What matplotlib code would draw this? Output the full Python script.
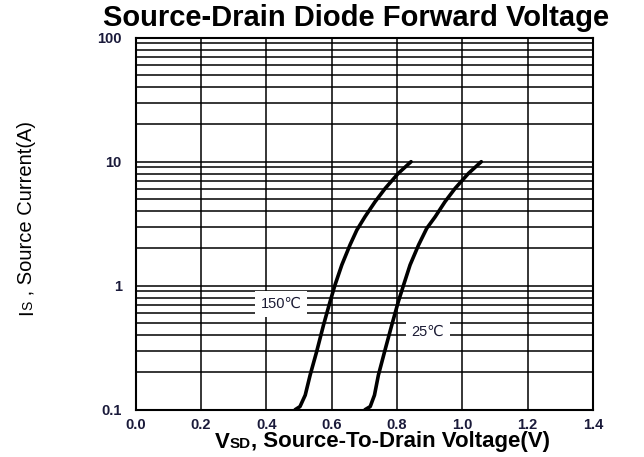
import matplotlib
matplotlib.use("Agg")
import matplotlib.pyplot as plt
from matplotlib.ticker import FixedLocator, NullFormatter

plt.rcParams['font.family'] = ['Liberation Sans', 'DejaVu Sans']

# Data
v_150 = [0.488, 0.503, 0.519, 0.534, 0.554, 0.575, 0.595, 0.610, 0.631, 0.656,
         0.677, 0.702, 0.733, 0.764, 0.804, 0.843]
i_150 = [0.100, 0.106, 0.131, 0.19, 0.294, 0.482, 0.743, 1.01, 1.47, 2.13,
         2.81, 3.6, 4.76, 6.1, 8.06, 10.0]
v_25 = [0.702, 0.718, 0.731, 0.743, 0.762, 0.784, 0.804, 0.820, 0.840, 0.866,
        0.891, 0.917, 0.947, 0.978, 1.019, 1.058]
i_25 = [0.100, 0.106, 0.131, 0.19, 0.294, 0.482, 0.743, 1.01, 1.47, 2.13,
        2.9, 3.6, 4.76, 6.1, 8.06, 10.0]
x_ticks = [0.0, 0.2, 0.4, 0.6, 0.8, 1.0, 1.2, 1.4]
x_tick_labels = ["0.0", "0.2", "0.4", "0.6", "0.8", "1.0", "1.2", "1.4"]
y_ticks = [0.1, 1, 10, 100]
y_tick_labels = ["0.1", "1", "10", "100"]
label_150 = "150℃"
label_25 = "25℃"
title = "Source-Drain Diode Forward Voltage"
xlabel_parts = ["V", "SD", ", Source-To-Drain Voltage(V)"]
ylabel_parts = ["I", "S", " , Source Current(A)"]

W, H = 644, 457
fig = plt.figure(figsize=(W / 100, H / 100), dpi=100)
ax = fig.add_axes([0.2107, 0.1035, 0.7101, 0.814])
ax.set_yscale('log')
ax.set_xlim(0, 1.4)
ax.set_ylim(0.1, 100)

minor = [m * 10.0 ** e for e in (-1, 0, 1) for m in range(2, 10)]
ax.yaxis.set_major_locator(FixedLocator(y_ticks))
ax.yaxis.set_minor_locator(FixedLocator(minor))
ax.yaxis.set_minor_formatter(NullFormatter())
ax.set_yticks(y_ticks)
ax.set_yticklabels(y_tick_labels)
ax.set_xticks(x_ticks)
ax.set_xticklabels(x_tick_labels)

ax.grid(True, which='both', axis='y', color='black', linewidth=1.1)
ax.grid(True, which='major', axis='x', color='black', linewidth=1.1)
ax.tick_params(which='both', length=0)
ax.tick_params(axis='x', pad=6)
ax.tick_params(axis='y', pad=10)
for lbl in ax.get_xticklabels() + ax.get_yticklabels():
    lbl.set_fontweight('bold')
    lbl.set_fontsize(10.5)
    lbl.set_color('#1a1a3a')
for s in ax.spines.values():
    s.set_linewidth(1.5)
    s.set_color('black')
ax.set_axisbelow(True)

ax.plot(v_150, i_150, color='black', linewidth=2.6, solid_capstyle='round',
        solid_joinstyle='round', zorder=3)
ax.plot(v_25, i_25, color='black', linewidth=2.6, solid_capstyle='round',
        solid_joinstyle='round', zorder=3)

ax.text(0.445, 0.71, label_150, ha='center', va='center', fontsize=10.5, color='#1a1a33', zorder=4,
        bbox=dict(facecolor='white', edgecolor='none', boxstyle='square,pad=0.4'))
ax.text(0.894, 0.426, label_25, ha='center', va='center', fontsize=10.5, color='#1a1a33', zorder=4,
        bbox=dict(facecolor='white', edgecolor='none', boxstyle='square,pad=0.4'))

fig.text(0.553, 0.960, title, ha='center', va='center',
         fontsize=21, fontweight='bold', color='black')

renderer = fig.canvas.get_renderer()


def compound(parts, sizes, cx, cy, rotation=0, weight='normal'):
    # measure advance widths
    widths = []
    for p, s in zip(parts, sizes):
        t = fig.text(0, 0, p, fontsize=s, fontweight=weight)
        bb = t.get_window_extent(renderer=renderer)
        widths.append(bb.width)
        t.remove()
    total = sum(widths)
    off = -total / 2
    for p, s, w in zip(parts, sizes, widths):
        if rotation == 0:
            x, y = cx + off, cy
        else:
            x, y = cx, cy + off
        fig.text(x / W, y / H, p, fontsize=s, fontweight=weight, color='black',
                 ha='left', va='baseline', rotation=rotation, rotation_mode='anchor')
        off += w


# x label: baseline at ~447.7 px from top, centred at ~382 px
compound(xlabel_parts, [16, 11, 16], 382.5, H - 447.5, rotation=0, weight='bold')
# y label: baseline at ~32.5 px from left, centred at ~218 px from top
compound(ylabel_parts, [14.5, 10, 14.5], 32.5, H - 218, rotation=90, weight='normal')

fig.savefig("out.png", dpi=100)
